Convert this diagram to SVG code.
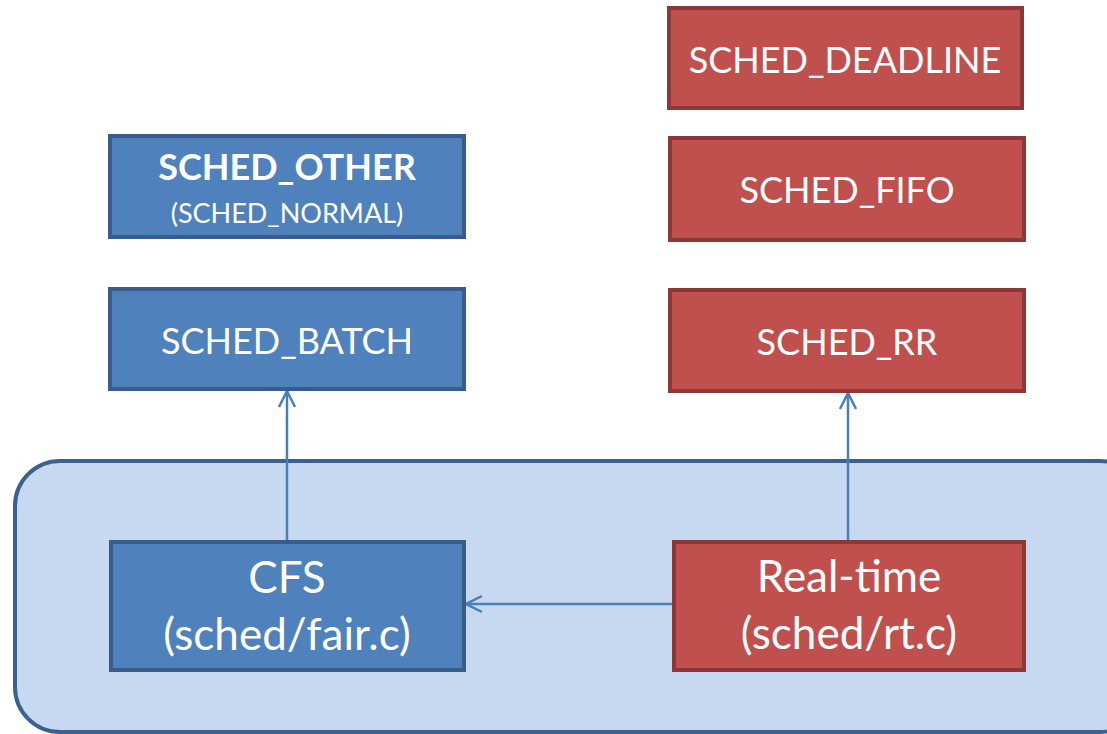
<svg xmlns="http://www.w3.org/2000/svg" width="1107" height="734" viewBox="0 0 1107 734">
  <defs>
    <style>
      .blue { fill: #4F81BD; stroke: #385D8A; stroke-width: 4; }
      .red { fill: #C0504D; stroke: #8C3836; stroke-width: 4; }
      .lbl { font-family: Lato, "Liberation Sans", sans-serif; fill: #FFFFFF; text-anchor: middle; }
      .conn { stroke: #4A7EBB; stroke-width: 2.5; fill: none; marker-end: url(#open); }
    </style>
    <marker id="open" viewBox="0 0 20 20" refX="18" refY="10" markerWidth="20" markerHeight="20" markerUnits="userSpaceOnUse" orient="auto">
      <path d="M2 2 L18 10 L2 18" fill="none" stroke="#4A7EBB" stroke-width="2.5"/>
    </marker>
  </defs>
  <rect width="1107" height="734" fill="#FFFFFF"/>

  <!-- kernel scheduler classes container -->
  <g id="container">
    <rect x="15" y="461" width="1130" height="271" rx="45" ry="45" fill="#C6D9F0" stroke="#3A6190" stroke-width="4"/>
  </g>

  <g id="connectors">
    <line class="conn" x1="287" y1="540" x2="287" y2="391"/>
    <line class="conn" x1="848" y1="540" x2="848" y2="393"/>
    <line class="conn" x1="672" y1="604" x2="466" y2="604"/>
  </g>

  <g id="sched_deadline">
    <rect class="red" x="669" y="8" width="353" height="100"/>
    <text class="lbl" x="845" y="73" font-size="36">SCHED_DEADLINE</text>
  </g>
  <g id="sched_fifo">
    <rect class="red" x="670" y="138" width="354" height="102"/>
    <text class="lbl" x="847" y="203" font-size="36">SCHED_FIFO</text>
  </g>
  <g id="sched_rr">
    <rect class="red" x="670" y="290" width="354" height="101"/>
    <text class="lbl" x="847" y="355" font-size="36">SCHED_RR</text>
  </g>
  <g id="sched_other">
    <rect class="blue" x="110" y="136" width="354" height="101"/>
    <text class="lbl" x="287" y="180" font-size="36" font-weight="bold">SCHED_OTHER</text>
    <text class="lbl" x="287" y="223" font-size="27">(SCHED_NORMAL)</text>
  </g>
  <g id="sched_batch">
    <rect class="blue" x="110" y="289" width="354" height="100"/>
    <text class="lbl" x="287" y="354" font-size="36">SCHED_BATCH</text>
  </g>
  <g id="cfs">
    <rect class="blue" x="111" y="542" width="353" height="128"/>
    <text class="lbl" x="287" y="593" font-size="44">CFS</text>
    <text class="lbl" x="287" y="650" font-size="44">(sched/fair.c)</text>
  </g>
  <g id="realtime">
    <rect class="red" x="674" y="542" width="350" height="128"/>
    <text class="lbl" x="849" y="592" font-size="44">Real-time</text>
    <text class="lbl" x="849" y="649" font-size="44">(sched/rt.c)</text>
  </g>
</svg>
